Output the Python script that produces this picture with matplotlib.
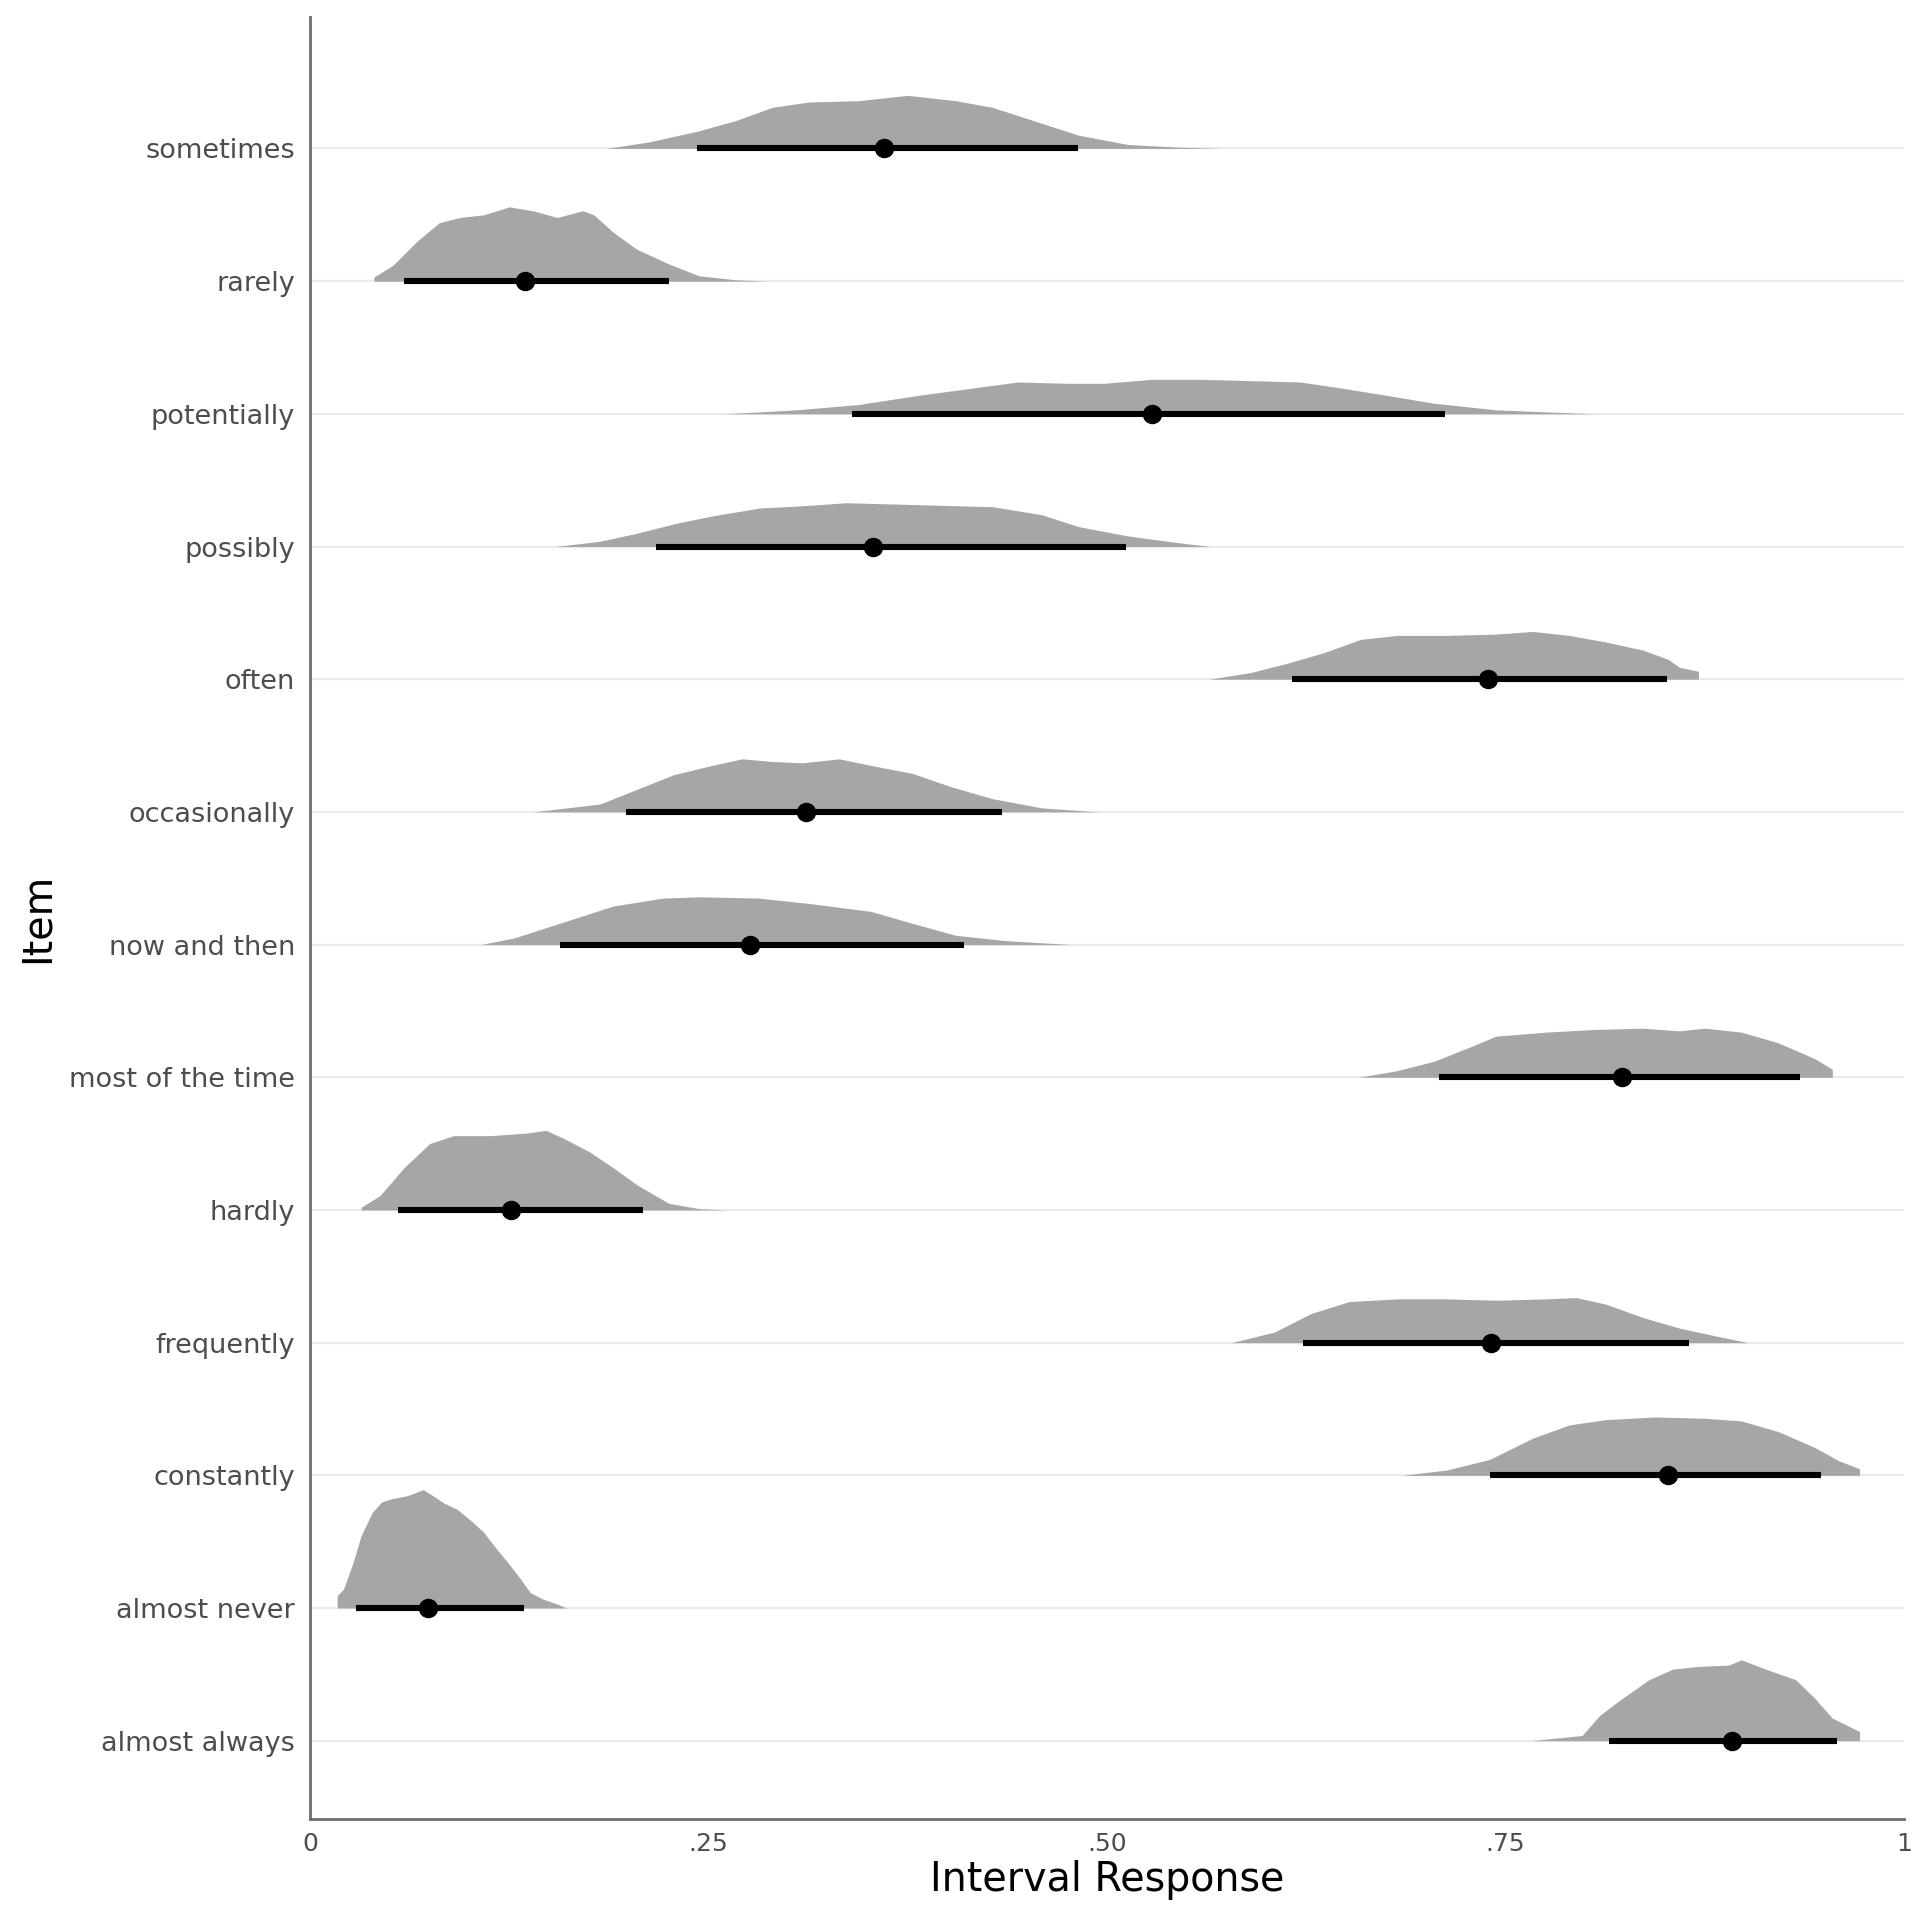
import matplotlib
matplotlib.use("Agg")
import matplotlib.pyplot as plt

# items, bottom to top
items = ["almost always", "almost never", "constantly", "frequently", "hardly",
         "most of the time", "now and then", "occasionally", "often", "possibly",
         "potentially", "rarely", "sometimes"]

# median and 95% interval per item
point = [0.892, 0.074, 0.852, 0.741, 0.126, 0.823, 0.276, 0.311, 0.739, 0.353, 0.528, 0.135, 0.360]
lower = [0.815, 0.029, 0.740, 0.623, 0.055, 0.708, 0.157, 0.198, 0.616, 0.217, 0.340, 0.059, 0.243]
upper = [0.958, 0.134, 0.948, 0.865, 0.209, 0.935, 0.410, 0.434, 0.851, 0.512, 0.712, 0.225, 0.482]

# density outlines (x, height in row units)
almost_always_x = [0.766, 0.782, 0.798, 0.809, 0.821, 0.840, 0.855, 0.871, 0.890, 0.898, 0.913, 0.932, 0.944, 0.955, 0.972]
almost_always_h = [0.0, 0.02, 0.04, 0.19, 0.30, 0.46, 0.54, 0.56, 0.57, 0.61, 0.54, 0.46, 0.32, 0.17, 0.07]

almost_never_x = [0.017, 0.021, 0.027, 0.032, 0.039, 0.045, 0.052, 0.061, 0.071, 0.077, 0.084,
                  0.092, 0.101, 0.109, 0.117, 0.124, 0.132, 0.138, 0.146, 0.155, 0.161]
almost_never_h = [0.093, 0.143, 0.344, 0.545, 0.721, 0.801, 0.826, 0.847, 0.892, 0.847, 0.791,
                  0.746, 0.658, 0.570, 0.445, 0.344, 0.219, 0.118, 0.068, 0.030, 0.0]

constantly_x = [0.685, 0.713, 0.740, 0.767, 0.790, 0.813, 0.844, 0.875, 0.898, 0.921, 0.944, 0.959, 0.972]
constantly_h = [0.0, 0.04, 0.12, 0.28, 0.38, 0.42, 0.44, 0.43, 0.41, 0.33, 0.21, 0.11, 0.05]

frequently_x = [0.578, 0.605, 0.628, 0.652, 0.682, 0.713, 0.744, 0.775, 0.794, 0.813, 0.836, 0.859, 0.882, 0.902]
frequently_h = [0.0, 0.08, 0.22, 0.31, 0.33, 0.33, 0.32, 0.33, 0.34, 0.29, 0.19, 0.11, 0.05, 0.0]

hardly_x = [0.032, 0.044, 0.059, 0.075, 0.090, 0.113, 0.136, 0.148, 0.159, 0.175, 0.190, 0.205, 0.225, 0.244, 0.261]
hardly_h = [0.02, 0.11, 0.32, 0.50, 0.56, 0.56, 0.58, 0.60, 0.54, 0.44, 0.32, 0.19, 0.05, 0.01, 0.0]

most_x = [0.658, 0.682, 0.705, 0.728, 0.744, 0.775, 0.805, 0.836, 0.859, 0.875, 0.898, 0.921, 0.944, 0.955]
most_h = [0.0, 0.05, 0.12, 0.23, 0.31, 0.34, 0.36, 0.37, 0.35, 0.37, 0.34, 0.26, 0.14, 0.06]

now_then_x = [0.107, 0.128, 0.159, 0.190, 0.221, 0.244, 0.282, 0.313, 0.352, 0.375, 0.405, 0.436, 0.478]
now_then_h = [0.0, 0.05, 0.17, 0.29, 0.35, 0.36, 0.35, 0.31, 0.25, 0.17, 0.07, 0.03, 0.0]

occasionally_x = [0.140, 0.182, 0.205, 0.228, 0.252, 0.271, 0.290, 0.309, 0.332, 0.352, 0.378, 0.402, 0.428, 0.459, 0.495]
occasionally_h = [0.0, 0.06, 0.17, 0.28, 0.35, 0.40, 0.38, 0.37, 0.40, 0.35, 0.29, 0.19, 0.10, 0.03, 0.0]

often_x = [0.564, 0.590, 0.613, 0.636, 0.659, 0.682, 0.713, 0.744, 0.767, 0.790, 0.813, 0.836, 0.852, 0.859, 0.871]
often_h = [0.0, 0.05, 0.12, 0.20, 0.30, 0.33, 0.33, 0.34, 0.36, 0.33, 0.28, 0.22, 0.15, 0.09, 0.06]

possibly_x = [0.154, 0.182, 0.205, 0.228, 0.252, 0.282, 0.313, 0.336, 0.367, 0.398, 0.428, 0.459, 0.482, 0.513, 0.544, 0.565]
possibly_h = [0.0, 0.04, 0.10, 0.17, 0.23, 0.29, 0.31, 0.33, 0.32, 0.31, 0.30, 0.24, 0.15, 0.08, 0.03, 0.0]

potentially_x = [0.260, 0.305, 0.344, 0.382, 0.413, 0.444, 0.475, 0.498, 0.528, 0.559, 0.590, 0.621, 0.644, 0.675, 0.705, 0.744, 0.805]
potentially_h = [0.0, 0.03, 0.07, 0.14, 0.19, 0.24, 0.23, 0.23, 0.26, 0.26, 0.25, 0.24, 0.20, 0.14, 0.08, 0.03, 0.0]

rarely_x = [0.040, 0.052, 0.067, 0.081, 0.094, 0.109, 0.125, 0.140, 0.155, 0.171, 0.178, 0.190, 0.205, 0.225, 0.244, 0.267, 0.288]
rarely_h = [0.03, 0.12, 0.30, 0.44, 0.48, 0.50, 0.56, 0.53, 0.48, 0.53, 0.50, 0.37, 0.24, 0.13, 0.04, 0.01, 0.0]

sometimes_x = [0.186, 0.213, 0.243, 0.267, 0.290, 0.313, 0.344, 0.375, 0.405, 0.428, 0.459, 0.482, 0.513, 0.544, 0.571]
sometimes_h = [0.0, 0.05, 0.13, 0.21, 0.31, 0.35, 0.36, 0.40, 0.36, 0.31, 0.19, 0.10, 0.03, 0.01, 0.0]

densities = [
    (almost_always_x, almost_always_h), (almost_never_x, almost_never_h),
    (constantly_x, constantly_h), (frequently_x, frequently_h),
    (hardly_x, hardly_h), (most_x, most_h), (now_then_x, now_then_h),
    (occasionally_x, occasionally_h), (often_x, often_h),
    (possibly_x, possibly_h), (potentially_x, potentially_h),
    (rarely_x, rarely_h), (sometimes_x, sometimes_h),
]

x_ticks = [0, 0.25, 0.5, 0.75, 1]
x_labels = ["0", ".25", ".50", ".75", "1"]

fig = plt.figure(figsize=(19.2, 19.2), dpi=100)
ax = fig.add_axes([0.1615, 0.0526, 0.8302, 0.9385])

for i, (dx, dh) in enumerate(densities):
    y0 = i + 1
    ax.axhline(y0, color="#EBEBEB", lw=1.6, zorder=0)
    ax.fill_between(dx, y0, [y0 + h for h in dh], color="#A6A6A6", lw=0, zorder=2)
    ax.plot([lower[i], upper[i]], [y0, y0], color="black", lw=4.4, solid_capstyle="butt", zorder=3)
    ax.plot(point[i], y0, "o", color="black", ms=13, zorder=4)

ax.set_xlim(0, 1)
ax.set_ylim(0.41, 13.99)
ax.set_yticks(range(1, len(items) + 1))
ax.set_yticklabels(items)
ax.set_xticks(x_ticks)
ax.set_xticklabels(x_labels)
ax.tick_params(axis="both", length=0, labelcolor="#4D4D4D")
ax.tick_params(axis="y", pad=11, labelsize=19.5)
ax.tick_params(axis="x", pad=9, labelsize=18)

for side in ["top", "right"]:
    ax.spines[side].set_visible(False)
for side in ["left", "bottom"]:
    ax.spines[side].set_color("#6E6E6E")
    ax.spines[side].set_linewidth(2)

ax.set_xlabel("Interval Response", fontsize=28.5, labelpad=3)
ax.set_ylabel("Item", fontsize=28.5, labelpad=8)

fig.savefig("out.png", dpi=100)
